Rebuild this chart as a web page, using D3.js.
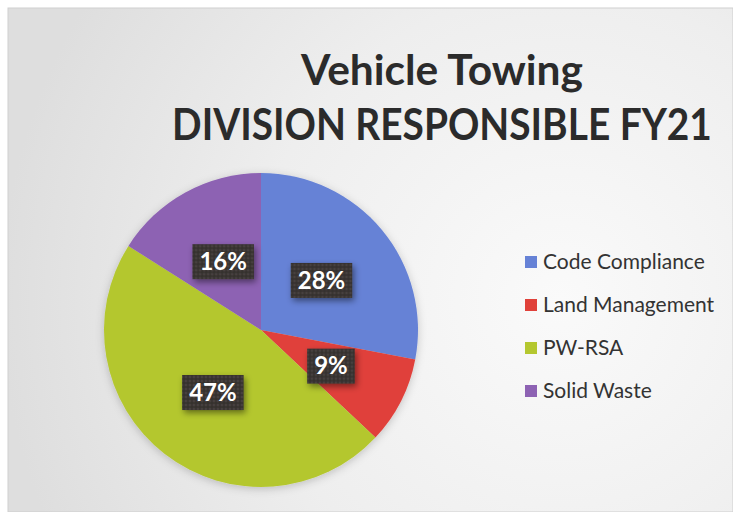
<!DOCTYPE html>
<html>
<head>
<meta charset="utf-8">
<script src="https://cdn.jsdelivr.net/npm/d3@7"></script>
<style>
  body { margin: 0; background: #fff; }
  svg { display: block; }
</style>
</head>
<body>
<svg id="chart" width="733" height="512"></svg>
<script>
var titleLines = ["Vehicle Towing", "DIVISION RESPONSIBLE FY21"];
var divisions = ["Code Compliance", "Land Management", "PW-RSA", "Solid Waste"];
var shares = [28, 9, 47, 16];
var sliceColors = ["#6682d6", "#e0413a", "#b4c72f", "#8d62b3"];

var width = 733, height = 512;
var cx = 261, cy = 330, radius = 157;
var fontFamily = "Lato, 'Open Sans', sans-serif";

var svg = d3.select("#chart");
var defs = svg.append("defs");

// slide background, lighter toward the right
var bg = defs.append("radialGradient")
    .attr("id", "bgGrad")
    .attr("gradientUnits", "userSpaceOnUse")
    .attr("cx", 560).attr("cy", 300).attr("r", 560);
bg.append("stop").attr("offset", "0%").attr("stop-color", "#fafafa");
bg.append("stop").attr("offset", "55%").attr("stop-color", "#eeeeee");
bg.append("stop").attr("offset", "100%").attr("stop-color", "#dedede");

var shadow = defs.append("filter").attr("id", "shadow")
    .attr("x", "-30%").attr("y", "-30%").attr("width", "160%").attr("height", "160%");
shadow.append("feDropShadow")
    .attr("dx", 2).attr("dy", 3).attr("stdDeviation", 3)
    .attr("flood-color", "#000").attr("flood-opacity", 0.45);

var pieShadow = defs.append("filter").attr("id", "pieShadow")
    .attr("x", "-10%").attr("y", "-10%").attr("width", "120%").attr("height", "120%");
pieShadow.append("feDropShadow")
    .attr("dx", 0).attr("dy", 2).attr("stdDeviation", 4)
    .attr("flood-color", "#000").attr("flood-opacity", 0.2);

// dotted texture for the label boxes
var pat = defs.append("pattern").attr("id", "dots")
    .attr("width", 4).attr("height", 4).attr("patternUnits", "userSpaceOnUse");
pat.append("rect").attr("width", 4).attr("height", 4).attr("fill", "#3a3533");
pat.append("circle").attr("cx", 1).attr("cy", 1).attr("r", 0.7).attr("fill", "#5c5653");
pat.append("circle").attr("cx", 3).attr("cy", 3).attr("r", 0.7).attr("fill", "#2a2624");

svg.append("rect").attr("width", width).attr("height", height).attr("fill", "#ffffff");
svg.append("rect")
    .attr("x", 8).attr("y", 8)
    .attr("width", width - 8).attr("height", height - 8)
    .attr("fill", "url(#bgGrad)")
    .attr("stroke", "#cfcfcf").attr("stroke-width", 1);

// title: tall glyphs squeezed into the width each line has in the reference
function fitText(sel, x, y, size, targetW) {
  sel.attr("font-size", size).attr("x", 0).attr("y", 0);
  var len = sel.node().getComputedTextLength();
  sel.attr("transform", "translate(" + x + "," + y + ") scale(" + (targetW / len) + ",1)");
}

var titleSpecs = [{y: 85, w: 282, size: 42}, {y: 140, w: 540, size: 44}];
titleLines.forEach(function(line, i) {
  var t = svg.append("text")
      .attr("text-anchor", "middle")
      .attr("font-family", fontFamily)
      .attr("font-weight", 700)
      .attr("fill", "#2b2b2b")
      .text(line);
  fitText(t, 442, titleSpecs[i].y, titleSpecs[i].size, titleSpecs[i].w);
});

var data = divisions.map(function(d, i) {
  return {name: d, value: shares[i], color: sliceColors[i]};
});

var pie = d3.pie().sort(null).value(function(d) { return d.value; });
var arc = d3.arc().innerRadius(0).outerRadius(radius);
var arcs = pie(data);

var g = svg.append("g").attr("transform", "translate(" + cx + "," + cy + ")");

g.append("g")
    .attr("filter", "url(#pieShadow)")
  .selectAll("path")
  .data(arcs)
  .enter().append("path")
    .attr("d", arc)
    .attr("fill", function(d) { return d.data.color; });

var total = d3.sum(shares);
var labels = g.selectAll("g.label")
  .data(arcs)
  .enter().append("g")
    .attr("class", "label")
    .attr("transform", function(d) {
      var c = arc.centroid(d);
      return "translate(" + c[0] + "," + c[1] + ")";
    });

labels.each(function(d) {
  var lg = d3.select(this);
  var box = lg.append("rect").attr("fill", "url(#dots)").attr("filter", "url(#shadow)");
  var t = lg.append("text")
      .attr("text-anchor", "middle")
      .attr("dy", "0.36em")
      .attr("font-family", fontFamily)
      .attr("font-weight", 700)
      .attr("font-size", 24)
      .attr("fill", "#ffffff")
      .text(Math.round(d.data.value / total * 100) + "%");
  var w = t.node().getComputedTextLength() + 14;
  box.attr("x", -w / 2).attr("y", -17).attr("width", w).attr("height", 35);
});

// legend
var legend = svg.append("g").attr("transform", "translate(525,262)");
var rows = legend.selectAll("g")
  .data(data)
  .enter().append("g")
    .attr("transform", function(d, i) { return "translate(0," + (i * 43) + ")"; });

rows.append("rect")
    .attr("x", 0).attr("y", -6)
    .attr("width", 12).attr("height", 12)
    .attr("fill", function(d) { return d.color; });

rows.append("text")
    .attr("x", 18)
    .attr("dy", "0.35em")
    .attr("font-family", fontFamily)
    .attr("font-size", 21)
    .attr("fill", "#333")
    .text(function(d) { return d.name; });
</script>
</body>
</html>
